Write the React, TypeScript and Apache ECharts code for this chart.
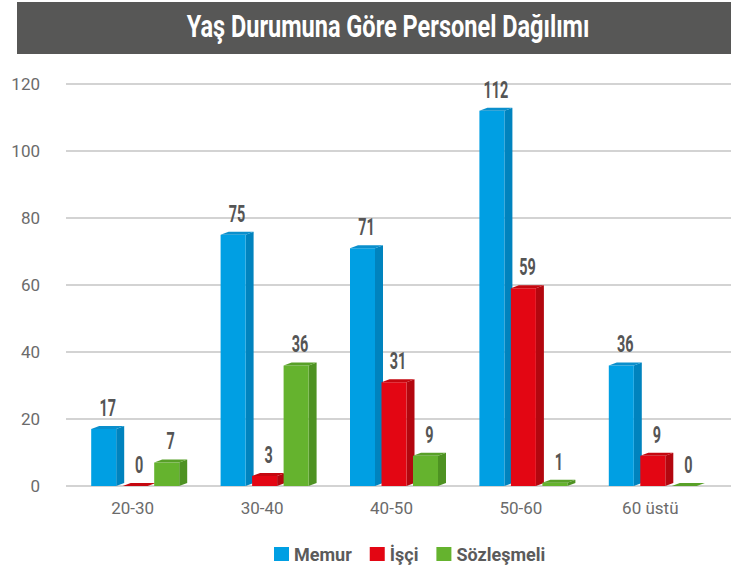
import React, { useEffect, useRef } from "react";
import * as echarts from "echarts";

const titleText = "Yaş Durumuna Göre Personel Dağılımı";
const categories = ["20-30", "30-40", "40-50", "50-60", "60 üstü"];
const seriesNames = ["Memur", "İşçi", "Sözleşmeli"];
const memur = [17, 75, 71, 112, 36];
const isci = [0, 3, 31, 59, 9];
const sozlesmeli = [7, 36, 9, 1, 0];
const yTicks = { min: 0, max: 120, interval: 20 };

const FRONT = ["#009fe3", "#e30613", "#65b32e"];
const SIDE = ["#0083be", "#b3070f", "#4e9222"];
const TOP = ["#0a8fcc", "#c5070f", "#58a028"];
const OFFSETS = [-29, 2.5, 34];
const W = 25;
const D = 8;
const R = 3;
const FONT = "Roboto, 'Noto Sans', sans-serif";

function makeSeries(idx: number, values: number[]) {
  return {
    type: "custom",
    name: seriesNames[idx],
    xAxisIndex: 1,
    yAxisIndex: 1,
    data: values.map((v, j) => [j, v]),
    encode: { x: 0, y: 1 },
    itemStyle: { color: FRONT[idx] },
    renderItem: (params: any, api: any) => {
      const c = api.value(0);
      const v = api.value(1);
      const base = api.coord([c, 0]);
      const top = api.coord([c, v]);
      const x0 = base[0] + OFFSETS[idx] - W / 2;
      const yT = top[1];
      const yB = base[1];
      return {
        type: "group",
        children: [
          {
            type: "polygon",
            shape: { points: [[x0 + W, yT], [x0 + W + D, yT - R], [x0 + W + D, yB - R], [x0 + W, yB]] },
            style: { fill: SIDE[idx] },
          },
          {
            type: "rect",
            shape: { x: x0, y: yT, width: W, height: yB - yT },
            style: { fill: FRONT[idx] },
          },
          {
            type: "polygon",
            shape: { points: [[x0, yT], [x0 + D, yT - R], [x0 + W + D, yT - R], [x0 + W, yT]] },
            style: { fill: TOP[idx] },
          },
          {
            type: "text",
            x: x0 + (W + D) / 2,
            y: yT - 9,
            scaleX: 0.6,
            style: {
              text: String(v),
              fill: "#555555",
              font: `bold 24px ${FONT}`,
              align: "center",
              verticalAlign: "bottom",
            },
          },
        ],
      };
    },
  };
}

export default function App() {
  const ref = useRef<HTMLDivElement>(null);
  useEffect(() => {
    if (!ref.current) return;
    const chart = echarts.init(ref.current, undefined, { renderer: "svg" });
    chart.setOption({
      animation: false,
      backgroundColor: "#ffffff",
      graphic: [
        {
          type: "rect",
          z: -1,
          shape: { x: 17, y: 2, width: 714, height: 52 },
          style: { fill: "#575756" },
        },
        {
          type: "text",
          x: 388,
          y: 26,
          scaleX: 0.735,
          style: {
            text: titleText,
            fill: "#ffffff",
            font: `bold 32px ${FONT}`,
            align: "center",
            verticalAlign: "middle",
          },
        },
      ],
      legend: {
        top: 540,
        left: 269,
        itemWidth: 15,
        itemHeight: 14,
        itemGap: 18,
        icon: "rect",
        data: seriesNames,
        textStyle: { color: "#5b5b5b", fontFamily: FONT, fontWeight: "bold", fontSize: 18 },
      },
      grid: [
        { left: 66, right: 0, top: 84, bottom: 82 },
        { left: 68, right: 16, top: 84, bottom: 82 },
      ],
      xAxis: [
        { type: "value", gridIndex: 0, min: 0, max: 1, show: false },
        {
          type: "category",
          gridIndex: 1,
          data: categories,
          axisLine: { show: false },
          axisTick: { show: false },
          axisLabel: { color: "#6b6b6b", fontFamily: FONT, fontSize: 17, margin: 13 },
        },
      ],
      yAxis: [
        {
          type: "value",
          gridIndex: 0,
          min: yTicks.min,
          max: yTicks.max,
          interval: yTicks.interval,
          axisLine: { show: false },
          axisTick: { show: false },
          splitLine: { lineStyle: { color: "#c4c4c4", width: 1.5 } },
          axisLabel: { color: "#6b6b6b", fontFamily: FONT, fontSize: 17, margin: 26 },
        },
        {
          type: "value",
          gridIndex: 1,
          min: yTicks.min,
          max: yTicks.max,
          interval: yTicks.interval,
          show: false,
          splitLine: { show: false },
        },
      ],
      series: [makeSeries(0, memur), makeSeries(1, isci), makeSeries(2, sozlesmeli)],
    });
    return () => chart.dispose();
  }, []);
  return <div ref={ref} style={{ width: 731, height: 568, position: "absolute", left: 0, top: 0 }} />;
}
